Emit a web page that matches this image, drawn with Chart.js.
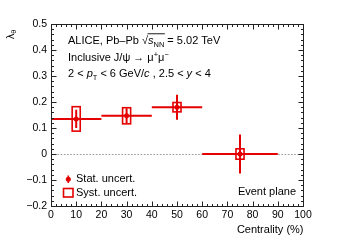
<!DOCTYPE html>
<html><head><meta charset="utf-8">
<script src="https://cdn.jsdelivr.net/npm/chart.js@4.4.0/dist/chart.umd.min.js"></script>
<style>html,body{margin:0;padding:0;background:#fff;overflow:hidden}canvas{display:block}</style>
</head><body><canvas id="c" width="338" height="244"></canvas>
<script>
// ---- data ----
const centrality = [10, 30, 50, 75];
const binLow = [0, 20, 40, 60];
const binHigh = [20, 40, 60, 90];
const lambdaTheta = [0.135, 0.147, 0.180, 0.000];
const statUnc = [0.035, 0.029, 0.048, 0.075];
const systUnc = [0.047, 0.031, 0.018, 0.020];
const xTickValues = [0, 10, 20, 30, 40, 50, 60, 70, 80, 90, 100];
const yTickValues = [-0.2, -0.1, 0, 0.1, 0.2, 0.3, 0.4, 0.5];
const xTitle = 'Centrality (%)';

const RED = 'rgb(228,0,0)';
const INK = '#000';
const FONT = '"Liberation Sans", Arial, sans-serif';
const BOX_HALF = 1.6; // centrality units

function rich(ctx, x, y, segs, size) {
  ctx.textBaseline = 'alphabetic';
  ctx.textAlign = 'left';
  let ovStart = null;
  for (const s of segs) {
    const sz = (s.sub || s.sup) ? size * 0.68 : size;
    ctx.font = (s.it ? 'italic ' : '') + sz + 'px ' + FONT;
    const dy = s.sub ? size * 0.3 : (s.sup ? -size * 0.38 : 0);
    if (s.ovStart) ovStart = x;
    ctx.fillText(s.t, x, y + dy);
    x += ctx.measureText(s.t).width;
    if (s.ovEnd && ovStart !== null) {
      ctx.save();
      ctx.strokeStyle = INK; ctx.lineWidth = 0.9;
      ctx.beginPath();
      const oy = y - size * 0.93;
      ctx.moveTo(ovStart - 0.5, oy); ctx.lineTo(x + 0.5, oy); ctx.stroke();
      ctx.restore();
    }
  }
  return x;
}

const decor = {
  id: 'decor',
  beforeDatasetsDraw(chart) {
    const { ctx, scales: { x, y } } = chart;
    ctx.save();
    // zero line
    ctx.strokeStyle = '#9a9a9a'; ctx.lineWidth = 1.1; ctx.setLineDash([1.6, 1.6]);
    const y0 = Math.round(y.getPixelForValue(0)) + 0.5;
    ctx.beginPath(); ctx.moveTo(x.getPixelForValue(0), y0); ctx.lineTo(x.getPixelForValue(100), y0); ctx.stroke();
    ctx.setLineDash([]);
    // error bars + syst boxes
    ctx.strokeStyle = RED; ctx.lineWidth = 2;
    for (let i = 0; i < centrality.length; i++) {
      const px = x.getPixelForValue(centrality[i]);
      const py = y.getPixelForValue(lambdaTheta[i]);
      ctx.beginPath();
      ctx.moveTo(x.getPixelForValue(binLow[i]), py); ctx.lineTo(x.getPixelForValue(binHigh[i]), py);
      ctx.moveTo(px, y.getPixelForValue(lambdaTheta[i] - statUnc[i])); ctx.lineTo(px, y.getPixelForValue(lambdaTheta[i] + statUnc[i]));
      ctx.stroke();
      const bx0 = x.getPixelForValue(centrality[i] - BOX_HALF), bx1 = x.getPixelForValue(centrality[i] + BOX_HALF);
      const by0 = y.getPixelForValue(lambdaTheta[i] + systUnc[i]), by1 = y.getPixelForValue(lambdaTheta[i] - systUnc[i]);
      ctx.lineWidth = 1.6;
      ctx.strokeRect(bx0, by0, bx1 - bx0, by1 - by0);
      ctx.lineWidth = 2;
    }
    ctx.restore();
  },
  afterDraw(chart) {
    const { ctx, chartArea: a, scales: { x, y } } = chart;
    ctx.save();
    const L = Math.round(a.left) + 0.5, R = Math.round(a.right) + 0.5, T = Math.round(a.top) + 0.5, B = Math.round(a.bottom) + 0.5;
    ctx.strokeStyle = '#222'; ctx.lineWidth = 1;
    ctx.strokeRect(L, T, R - L, B - T);
    ctx.beginPath();
    for (let i = 0; i <= 50; i++) {
      const v = i * 2, len = (i % 5 === 0) ? 5 : 2.5;
      const px = Math.round(x.getPixelForValue(v)) + 0.5;
      ctx.moveTo(px, B); ctx.lineTo(px, B - len);
      ctx.moveTo(px, T); ctx.lineTo(px, T + len);
    }
    for (let i = -10; i <= 25; i++) {
      const v = i * 0.02, len = (i % 5 === 0) ? 5 : 2.5;
      const py = Math.round(y.getPixelForValue(v)) + 0.5;
      ctx.moveTo(L, py); ctx.lineTo(L + len, py);
      ctx.moveTo(R, py); ctx.lineTo(R - len, py);
    }
    ctx.stroke();

    ctx.fillStyle = INK;
    const S = 11;
    // header text
    rich(ctx, 68, 44, [
      { t: 'ALICE, Pb\u2013Pb ' }, { t: '\u221A' }, { t: 's', it: true, ovStart: true }, { t: 'NN', sub: true, ovEnd: true }, { t: ' = 5.02 TeV' }
    ], S);
    rich(ctx, 68, 61, [{ t: 'Inclusive J/\u03C8 \u2192 \u03BC' }, { t: '+', sup: true }, { t: '\u03BC' }, { t: '\u2212', sup: true }], S);
    rich(ctx, 68, 77, [
      { t: '2 < ' }, { t: 'p', it: true }, { t: 'T', sub: true }, { t: ' < 6 GeV/' }, { t: 'c', it: true },
      { t: ' , 2.5 < ' }, { t: 'y', it: true }, { t: ' < 4' }
    ], S);
    // event plane
    ctx.font = S + 'px ' + FONT; ctx.textAlign = 'right'; ctx.textBaseline = 'middle';
    ctx.fillText('Event plane', 296, 191.5);
    // legend
    ctx.strokeStyle = RED; ctx.fillStyle = RED; ctx.lineWidth = 1.6;
    ctx.beginPath(); ctx.moveTo(68.3, 175.5); ctx.lineTo(68.3, 183); ctx.stroke();
    ctx.beginPath(); ctx.arc(68.3, 179.3, 2.5, 0, Math.PI * 2); ctx.fill();
    ctx.strokeRect(63.5, 188.5, 9.5, 8.5);
    ctx.fillStyle = INK; ctx.textAlign = 'left'; ctx.textBaseline = 'middle';
    ctx.fillText('Stat. uncert.', 76, 179);
    ctx.fillText('Syst. uncert.', 76, 193);
    // y title
    ctx.save();
    ctx.translate(13.5, 39);
    ctx.rotate(-Math.PI / 2);
    ctx.textBaseline = 'alphabetic';
    ctx.font = '10.5px ' + FONT;
    ctx.fillText('\u03BB', 0, 0);
    const w = ctx.measureText('\u03BB').width;
    ctx.font = '7.5px ' + FONT;
    ctx.fillText('\u03B8', w, 2.8);
    ctx.restore();
    // x title
    ctx.font = S + 'px ' + FONT; ctx.textAlign = 'right'; ctx.textBaseline = 'middle';
    ctx.fillText(xTitle, R, 230);
    ctx.restore();
  }
};

const tickFont = { family: FONT, size: 10.5 };
new Chart(document.getElementById('c'), {
  type: 'scatter',
  data: {
    datasets: [{
      data: centrality.map((c, i) => ({ x: c, y: lambdaTheta[i] })),
      pointRadius: 2.5, pointBackgroundColor: RED, pointBorderWidth: 0, pointBorderColor: RED, showLine: false
    }]
  },
  options: {
    responsive: false, animation: false, devicePixelRatio: 1,
    layout: { padding: { left: 0, right: 35, top: 24, bottom: 0 } },
    plugins: { legend: { display: false }, tooltip: { enabled: false } },
    scales: {
      x: {
        type: 'linear', min: 0, max: 100,
        afterBuildTicks: s => { s.ticks = xTickValues.map(v => ({ value: v })); },
        afterFit: s => { s.height = 38; },
        grid: { display: false, drawTicks: false }, border: { display: false },
        ticks: { font: tickFont, color: INK, padding: 3, maxRotation: 0, autoSkip: false, callback: v => String(v) }
      },
      y: {
        type: 'linear', min: -0.2, max: 0.5,
        afterBuildTicks: s => { s.ticks = yTickValues.map(v => ({ value: v })); },
        afterFit: s => { s.width = 51; },
        grid: { display: false, drawTicks: false }, border: { display: false },
        ticks: { font: tickFont, color: INK, padding: 4, autoSkip: false,
          callback: v => Math.abs(v) < 1e-9 ? '0' : (v < 0 ? '\u2212' : '') + Math.abs(v).toFixed(1) }
      }
    }
  },
  plugins: [decor]
});
</script>
</body></html>
